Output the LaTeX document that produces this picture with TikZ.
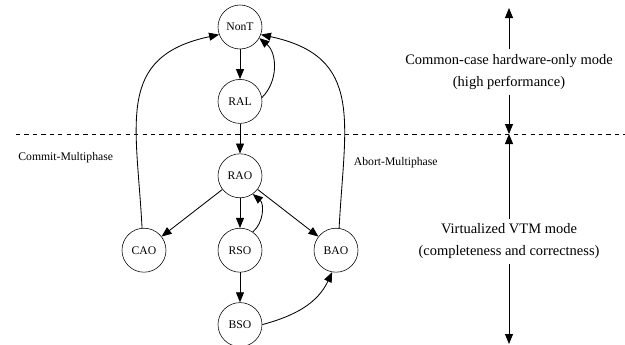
\documentclass[tikz,border=0pt]{standalone}
\usepackage{fontspec}
\setmainfont{Liberation Serif}
\usetikzlibrary{arrows.meta, positioning}

\begin{document}
\begin{tikzpicture}[
    node distance=1.86cm and 2.4cm, on grid,
    state/.style={
        circle, draw, minimum size=1.1cm, inner sep=0pt,
        font=\fontsize{8.3}{10}\selectfont
    },
    arr/.style={-{Triangle[length=2.5mm, width=2mm]}, line width=0.6pt},
    lab/.style={font=\fontsize{8.3}{10}\selectfont},
    mode/.style={align=center, font=\fontsize{10.3}{15.6}\selectfont}
]
\useasboundingbox (0,0) rectangle (15.625,-8.6);

% --- Etats ---
\node[state] (NonT) at (6,-0.675) {NonT};
\node[state, below=of NonT] (RAL) {RAL};
\node[state, below=of RAL]  (RAO) {RAO};
\node[state, below=of RAO]  (RSO) {RSO};
\node[state, left=of RSO]   (CAO) {CAO};
\node[state, right=of RSO]  (BAO) {BAO};
\node[state, below=of RSO]  (BSO) {BSO};

% --- Frontiere des modes ---
\draw[dashed, line width=0.5pt] (0.4,-3.35) -- (15.625,-3.35);

% --- Transitions ---
\draw[arr] (NonT) -- (RAL);
\draw[arr] (RAL.10) to[bend right=48] (NonT.-30);
\draw[arr] (RAL) -- (RAO);
\draw[arr] (RAO) -- (CAO);
\draw[arr] (RAO) -- (RSO);
\draw[arr] (RAO) -- (BAO);
\draw[arr] (RSO.55) to[bend right=50] (RAO.-55);
\draw[arr] (RSO) -- (BSO);
\draw[arr] (BSO.east) to[out=15, in=-115] (BAO.-100);

% Commit / Abort multiphase
\draw[arr] (CAO.95) to[out=93, in=192, looseness=1.3] (NonT.200);
\draw[arr] (BAO.82) to[out=87, in=-12, looseness=1.3] (NonT.-20);
\node[lab, anchor=east] (commit) at (2.95,-3.95)  {Commit-Multiphase};
\node[lab, anchor=west] (abort)  at (8.725,-4.075) {Abort-Multiphase};

% --- Modes ---
\node[mode] (hw) at (12.725,-1.8)
    {Common-case hardware-only mode\\(high performance)};
\node[mode] (vtm) at (12.725,-6.03)
    {Virtualized VTM mode\\(completeness and correctness)};
\coordinate (hwtop) at (12.725,-0.2);
\coordinate (hwbot) at (12.725,-3.35);
\coordinate (vtmtop) at (12.725,-3.35);
\coordinate (vtmbot) at (12.725,-8.6);
\draw[arr] (hw) -- (hwtop);
\draw[arr] (hw) -- (hwbot);
\draw[arr] (vtm) -- (vtmtop);
\draw[arr] (vtm) -- (vtmbot);

\end{tikzpicture}
\end{document}
